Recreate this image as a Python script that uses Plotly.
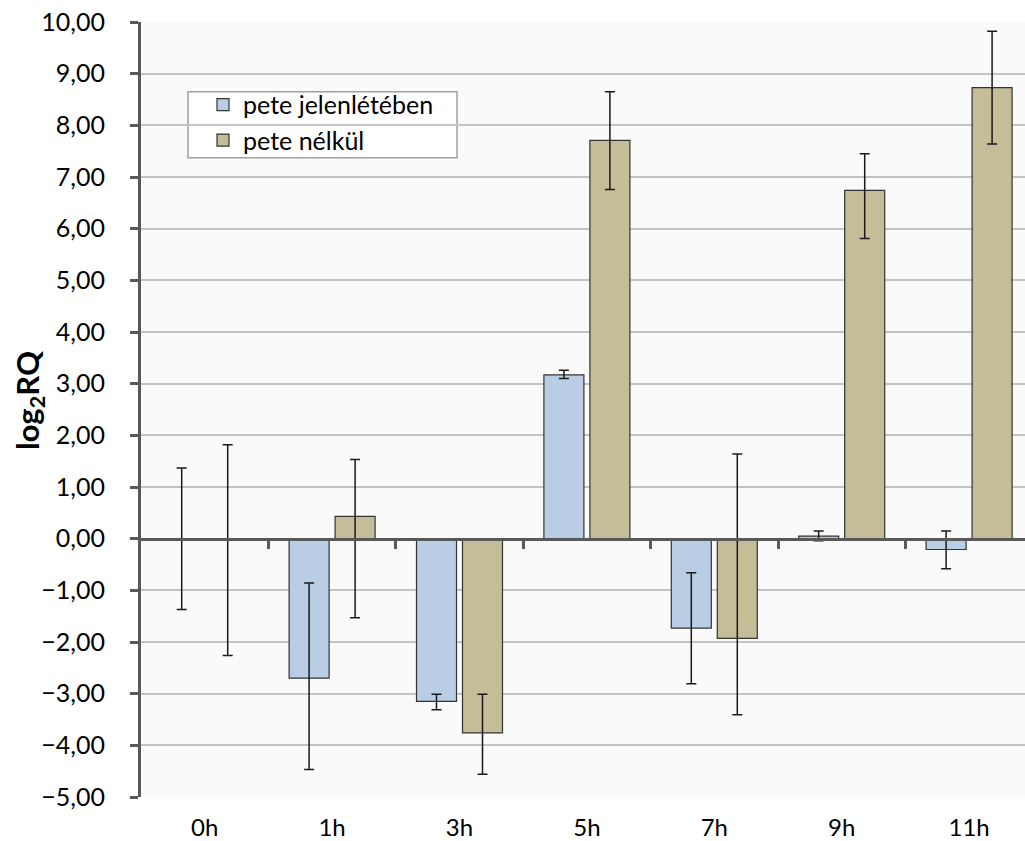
import plotly.graph_objects as go

categories = ["0h", "1h", "3h", "5h", "7h", "9h", "11h"]
series_names = ["pete jelenlétében", "pete nélkül"]

blue_values = [0.00, -2.70, -3.15, 3.17, -1.73, 0.05, -0.21]
blue_err_plus = [1.37, 1.84, 0.14, 0.09, 1.07, 0.10, 0.36]
blue_err_minus = [1.37, 1.77, 0.16, 0.07, 1.08, 0.09, 0.37]

gold_values = [0.00, 0.43, -3.76, 7.71, -1.93, 6.74, 8.73]
gold_err_plus = [1.82, 1.10, 0.75, 0.94, 3.57, 0.71, 1.09]
gold_err_minus = [2.26, 1.96, 0.80, 0.95, 1.48, 0.93, 1.09]

y_ticks = [v for v in range(-5, 11)]

FONT = "Lato"
AXIS_DARK = "#595959"

W, H = 1025, 841
# plot area in pixels: x 141..1025, y 22..799
PL, PR, PT, PB = 141, 1025, 22, 799
PW, PH = PR - PL, PB - PT
CAT_PX = 127.4

def px(x):
    return (x - PL) / PW

def py(y):
    return (PB - y) / PH

fig = go.Figure()

def err(plus, minus):
    return dict(type="data", symmetric=False, array=plus, arrayminus=minus,
                color="#1a1a1a", thickness=1.5, width=5)

fig.add_trace(go.Bar(
    name=series_names[0], x=categories, y=blue_values, legendgroup="a",
    marker=dict(color="#b9cde5", line=dict(color="#333333", width=1.2)),
    error_y=err(blue_err_plus, blue_err_minus),
))
fig.add_trace(go.Bar(
    name=series_names[1], x=categories, y=gold_values, legendgroup="b",
    marker=dict(color="#c4bd97", line=dict(color="#333333", width=1.2)),
    error_y=err(gold_err_plus, gold_err_minus),
))
# helper trace so the zero-line axis (with its category boundary ticks) is drawn
fig.add_trace(go.Scatter(x=[0], y=[None], xaxis="x2", showlegend=False,
                         hoverinfo="skip", mode="markers"))

n = len(categories)
x_range = [-0.5, -0.5 + PW / CAT_PX]

fig.update_layout(
    width=W, height=H,
    margin=dict(l=PL, r=W - PR, t=PT, b=H - PB),
    paper_bgcolor="white",
    plot_bgcolor="#fafafa",
    separators=",.",
    barmode="group",
    bargap=0.278,
    bargroupgap=0.13,
    font=dict(family=FONT, size=24, color="black"),
    showlegend=True,
    legend=dict(x=px(203), y=py(82), xanchor="left", yanchor="top",
                bgcolor="rgba(0,0,0,0)", borderwidth=0,
                font=dict(family=FONT, size=25, color="black"),
                traceorder="grouped", tracegroupgap=0, itemwidth=30),
    xaxis=dict(range=x_range, showgrid=False, zeroline=False, showline=False,
               ticks="", tickfont=dict(family=FONT, size=24),
               ticklabelstandoff=14, ticklabeloverflow="allow"),
    xaxis2=dict(overlaying="x", anchor="free", position=1/3, range=x_range,
                showgrid=False, zeroline=False, showline=True,
                linecolor=AXIS_DARK, linewidth=3,
                tickmode="array", tickvals=[i + 0.5 for i in range(n)],
                ticks="outside", ticklen=8, tickwidth=3, tickcolor=AXIS_DARK,
                showticklabels=False, side="bottom"),
    yaxis=dict(range=[-5, 10], tickmode="array", tickvals=y_ticks,
               tickformat=".2f", showgrid=True, gridcolor="#c4c4c4", gridwidth=1.5,
               zeroline=False, showline=True, linecolor=AXIS_DARK, linewidth=3,
               ticks="outside", ticklen=8, tickwidth=3, tickcolor=AXIS_DARK,
               tickfont=dict(family=FONT, size=25), ticklabelstandoff=20,
               ticklabeloverflow="allow"),
)

# legend frame
fig.add_shape(type="rect", xref="paper", yref="paper",
              x0=px(188), x1=px(457), y0=py(158), y1=py(92),
              line=dict(color="#a0a0a0", width=1.5), fillcolor="white", layer="below")

fig.add_annotation(text="<b>log<sub>2</sub>RQ</b>", textangle=-90,
                   xref="paper", yref="paper", x=px(29), y=py(401),
                   xanchor="center", yanchor="middle", showarrow=False,
                   font=dict(family=FONT, size=31, color="black"))

# remove the default page margin so the figure fills the window exactly
fig.write_html("out.html",
               config={"displayModeBar": False},
               post_script="document.body.style.margin='0';document.body.style.overflow='hidden';")
